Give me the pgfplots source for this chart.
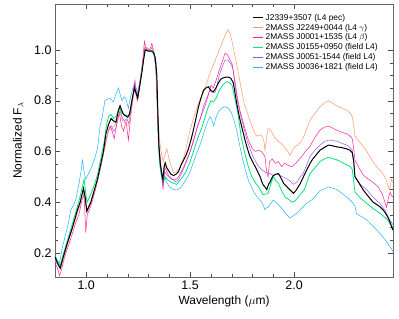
\documentclass[border=0pt]{standalone}
\usepackage{pgfplots}
\pgfplotsset{compat=1.18}
\usepackage{fontspec}
\setmainfont{Liberation Sans}
\definecolor{cblack}{RGB}{0,0,0}
\definecolor{csalmon}{RGB}{255,150,110}
\definecolor{cpink}{RGB}{255,30,150}
\definecolor{cgreen}{RGB}{0,230,120}
\definecolor{cpurple}{RGB}{160,80,255}
\definecolor{cblue}{RGB}{30,180,255}
\begin{document}
\begin{tikzpicture}
\begin{axis}[
  scale only axis, width=338bp, height=273bp,
  xmin=0.85, xmax=2.476, ymin=0.105, ymax=1.181,
  xtick={1.0,1.5,2.0}, minor x tick num=4,
  ytick={0.2,0.4,0.6,0.8,1.0}, minor y tick num=3,
  major tick length=5bp, minor tick length=2.8bp,
  tick style={black!70}, axis line style={black!60},
  ticklabel style={font=\fontsize{12.5}{14}\selectfont},
  /pgf/number format/assume math mode=true,
  xticklabel style={/pgf/number format/.cd, fixed, fixed zerofill, precision=1},
  yticklabel style={/pgf/number format/.cd, fixed, fixed zerofill, precision=1},
  xlabel={Wavelength ($\mu$m)}, ylabel={Normalized F$_\lambda$},
  label style={font=\fontsize{12}{14}\selectfont},
  ylabel style={yshift=4bp},
  legend style={at={(0.58,0.975)}, anchor=north west, draw=white, fill=white,
    font=\fontsize{8.4}{10}\selectfont, row sep=-1.6pt, inner sep=1pt},
  legend cell align=left,
  legend image post style={xscale=0.6},
]
\addlegendimage{color=cblack, line width=1pt, no marks}\addlegendentry{J2339+3507 (L4 pec)}
\addlegendimage{color=csalmon, line width=1.1pt, no marks}\addlegendentry{2MASS J2249+0044 (L4 $\gamma$)}
\addlegendimage{color=cpink, line width=1.1pt, no marks}\addlegendentry{2MASS J0001+1535 (L4 $\beta$)}
\addlegendimage{color=cgreen, line width=1.3pt, no marks}\addlegendentry{2MASS J0155+0950 (field L4)}
\addlegendimage{color=cpurple, line width=1.1pt, no marks}\addlegendentry{2MASS J0051-1544 (field L4)}
\addlegendimage{color=cblue, line width=1.1pt, no marks}\addlegendentry{2MASS J0036+1821 (field L4)}

% J0036 (blue)
\addplot[cblue, line width=0.5pt, forget plot] table {
0.850 0.190
0.862 0.170
0.872 0.160
0.885 0.220
0.900 0.270
0.910 0.300
0.926 0.370
0.940 0.390
0.950 0.410
0.966 0.475
0.975 0.520
0.982 0.565
0.990 0.520
0.998 0.490
1.010 0.510
1.022 0.530
1.040 0.570
1.054 0.610
1.067 0.700
1.078 0.740
1.090 0.800
1.100 0.805
1.115 0.810
1.130 0.795
1.145 0.830
1.155 0.850
1.165 0.820
1.172 0.800
1.182 0.815
1.190 0.810
1.203 0.770
1.215 0.820
1.232 0.870
1.242 0.845
1.250 0.830
1.262 0.900
1.272 0.960
1.282 0.995
1.292 1.010
1.305 1.000
1.318 0.990
1.326 0.980
1.334 0.940
1.341 0.800
1.348 0.620
1.356 0.530
1.363 0.500
1.370 0.470
1.378 0.500
1.386 0.480
1.400 0.460
1.420 0.450
1.436 0.448
1.452 0.455
1.470 0.475
1.485 0.495
1.500 0.520
1.515 0.555
1.530 0.590
1.550 0.630
1.565 0.670
1.580 0.710
1.596 0.737
1.606 0.720
1.614 0.700
1.622 0.730
1.636 0.755
1.650 0.770
1.668 0.776
1.685 0.770
1.700 0.750
1.712 0.720
1.724 0.685
1.737 0.630
1.750 0.580
1.765 0.530
1.780 0.487
1.795 0.460
1.810 0.435
1.828 0.415
1.845 0.400
1.853 0.385
1.860 0.370
1.868 0.378
1.875 0.380
1.888 0.395
1.900 0.408
1.912 0.400
1.925 0.390
1.945 0.372
1.965 0.350
1.980 0.338
1.995 0.345
2.010 0.355
2.030 0.370
2.060 0.395
2.090 0.412
2.125 0.445
2.165 0.460
2.205 0.450
2.230 0.435
2.253 0.420
2.280 0.400
2.293 0.385
2.300 0.355
2.320 0.345
2.350 0.330
2.380 0.305
2.413 0.277
2.445 0.245
2.477 0.205
};

% J0155 (green)
\addplot[cgreen, line width=0.8pt, forget plot] table {
0.850 0.185
0.862 0.165
0.875 0.150
0.890 0.195
0.910 0.250
0.930 0.305
0.950 0.360
0.970 0.420
0.990 0.490
1.000 0.420
1.005 0.400
1.022 0.430
1.040 0.470
1.055 0.510
1.070 0.570
1.085 0.630
1.097 0.700
1.108 0.740
1.120 0.745
1.132 0.730
1.145 0.740
1.160 0.775
1.172 0.750
1.185 0.745
1.200 0.740
1.210 0.750
1.222 0.810
1.232 0.850
1.245 0.815
1.258 0.870
1.270 0.930
1.283 1.000
1.300 0.995
1.316 0.998
1.326 0.985
1.336 0.930
1.342 0.780
1.348 0.630
1.356 0.540
1.363 0.500
1.370 0.470
1.378 0.500
1.390 0.490
1.405 0.480
1.420 0.475
1.435 0.470
1.450 0.485
1.465 0.500
1.480 0.520
1.500 0.560
1.520 0.610
1.540 0.660
1.555 0.690
1.570 0.730
1.585 0.770
1.600 0.800
1.612 0.795
1.625 0.810
1.640 0.840
1.655 0.860
1.676 0.875
1.690 0.870
1.702 0.860
1.715 0.810
1.730 0.750
1.745 0.660
1.764 0.590
1.780 0.540
1.797 0.500
1.815 0.475
1.830 0.460
1.850 0.430
1.865 0.432
1.875 0.435
1.888 0.470
1.900 0.500
1.912 0.485
1.925 0.474
1.940 0.445
1.957 0.420
1.975 0.410
1.990 0.400
2.005 0.405
2.020 0.420
2.035 0.435
2.050 0.450
2.077 0.513
2.100 0.535
2.125 0.560
2.145 0.570
2.165 0.577
2.185 0.572
2.205 0.567
2.230 0.557
2.253 0.547
2.270 0.540
2.280 0.530
2.287 0.480
2.293 0.440
2.320 0.415
2.350 0.395
2.380 0.375
2.413 0.356
2.430 0.345
2.450 0.330
2.465 0.310
2.477 0.300
};

% J0051 (purple)
\addplot[cpurple, line width=0.5pt, forget plot] table {
0.850 0.175
0.862 0.155
0.875 0.140
0.890 0.180
0.910 0.235
0.930 0.290
0.955 0.355
0.970 0.390
0.985 0.445
0.995 0.410
1.003 0.360
1.022 0.395
1.040 0.440
1.055 0.485
1.070 0.540
1.085 0.600
1.100 0.660
1.110 0.690
1.122 0.700
1.132 0.680
1.142 0.690
1.155 0.740
1.163 0.760
1.175 0.730
1.185 0.720
1.195 0.730
1.205 0.710
1.220 0.790
1.232 0.860
1.245 0.820
1.258 0.870
1.270 0.930
1.282 1.010
1.295 1.000
1.305 0.995
1.316 1.010
1.326 0.990
1.336 0.950
1.342 0.800
1.348 0.640
1.356 0.560
1.363 0.510
1.370 0.480
1.378 0.520
1.390 0.505
1.400 0.500
1.415 0.490
1.430 0.480
1.445 0.490
1.460 0.515
1.475 0.545
1.490 0.575
1.505 0.610
1.520 0.650
1.535 0.700
1.550 0.730
1.565 0.780
1.580 0.810
1.595 0.840
1.610 0.830
1.622 0.835
1.640 0.900
1.655 0.935
1.668 0.960
1.682 0.960
1.695 0.945
1.705 0.930
1.718 0.850
1.732 0.780
1.750 0.720
1.775 0.640
1.797 0.590
1.815 0.560
1.830 0.540
1.850 0.525
1.865 0.515
1.880 0.515
1.900 0.505
1.920 0.510
1.945 0.500
1.970 0.490
1.985 0.480
1.997 0.470
2.015 0.480
2.030 0.500
2.045 0.515
2.077 0.580
2.100 0.605
2.125 0.625
2.145 0.638
2.165 0.645
2.185 0.643
2.205 0.640
2.230 0.632
2.253 0.625
2.270 0.615
2.280 0.605
2.287 0.560
2.293 0.500
2.320 0.470
2.350 0.448
2.380 0.420
2.413 0.395
2.440 0.365
2.460 0.330
2.477 0.310
};

% J0001 (pink)
\addplot[cpink, line width=0.5pt, forget plot] table {
0.850 0.160
0.862 0.140
0.872 0.110
0.880 0.130
0.895 0.180
0.915 0.230
0.935 0.280
0.950 0.320
0.965 0.350
0.980 0.410
0.990 0.430
0.998 0.280
1.005 0.350
1.020 0.380
1.035 0.420
1.050 0.470
1.065 0.520
1.080 0.580
1.095 0.640
1.107 0.680
1.115 0.700
1.125 0.680
1.135 0.650
1.145 0.700
1.160 0.750
1.170 0.700
1.180 0.680
1.192 0.720
1.203 0.645
1.212 0.720
1.225 0.820
1.235 0.880
1.245 0.800
1.255 0.840
1.268 0.920
1.280 1.033
1.290 1.000
1.300 1.000
1.308 1.005
1.316 1.026
1.326 0.990
1.336 0.930
1.342 0.780
1.348 0.640
1.356 0.580
1.362 0.520
1.370 0.450
1.378 0.540
1.388 0.520
1.400 0.500
1.412 0.490
1.425 0.488
1.440 0.495
1.455 0.515
1.470 0.540
1.485 0.570
1.500 0.600
1.520 0.655
1.540 0.710
1.555 0.745
1.570 0.775
1.585 0.815
1.600 0.860
1.612 0.850
1.625 0.880
1.640 0.920
1.655 0.955
1.668 0.987
1.680 0.980
1.692 0.960
1.702 0.945
1.715 0.880
1.728 0.810
1.740 0.760
1.760 0.700
1.780 0.645
1.800 0.610
1.815 0.600
1.830 0.605
1.845 0.598
1.860 0.580
1.868 0.520
1.875 0.500
1.882 0.560
1.895 0.570
1.910 0.553
1.925 0.560
1.940 0.540
1.955 0.553
1.970 0.545
1.990 0.540
2.010 0.555
2.037 0.580
2.055 0.600
2.077 0.620
2.100 0.655
2.125 0.684
2.145 0.695
2.165 0.700
2.185 0.692
2.205 0.684
2.230 0.675
2.253 0.670
2.270 0.660
2.280 0.650
2.287 0.610
2.293 0.566
2.313 0.535
2.333 0.507
2.350 0.495
2.365 0.487
2.385 0.475
2.405 0.460
2.425 0.430
2.445 0.380
2.455 0.420
2.462 0.440
2.470 0.425
2.477 0.420
};

% J2249 (salmon)
\addplot[csalmon, line width=0.5pt, forget plot] table {
0.850 0.170
0.865 0.150
0.878 0.135
0.895 0.190
0.915 0.250
0.935 0.300
0.955 0.350
0.970 0.390
0.985 0.440
0.995 0.400
1.003 0.360
1.020 0.390
1.040 0.440
1.060 0.500
1.080 0.580
1.095 0.640
1.107 0.680
1.120 0.690
1.135 0.700
1.150 0.720
1.163 0.750
1.175 0.720
1.190 0.710
1.205 0.700
1.218 0.760
1.232 0.840
1.248 0.800
1.265 0.900
1.280 0.990
1.290 1.010
1.305 0.995
1.318 1.010
1.328 0.985
1.338 0.900
1.345 0.760
1.352 0.650
1.360 0.600
1.370 0.560
1.380 0.590
1.388 0.610
1.396 0.580
1.408 0.545
1.420 0.515
1.435 0.520
1.450 0.535
1.465 0.565
1.480 0.610
1.500 0.685
1.520 0.740
1.540 0.790
1.564 0.830
1.580 0.870
1.596 0.910
1.612 0.940
1.628 0.975
1.645 1.010
1.660 1.040
1.672 1.065
1.684 1.080
1.692 1.065
1.700 1.040
1.715 0.980
1.730 0.920
1.745 0.850
1.760 0.790
1.780 0.740
1.797 0.700
1.810 0.675
1.820 0.660
1.835 0.665
1.848 0.660
1.855 0.640
1.860 0.605
1.867 0.650
1.875 0.690
1.885 0.685
1.898 0.670
1.910 0.650
1.925 0.640
1.940 0.630
1.955 0.615
1.970 0.600
1.980 0.585
1.990 0.600
2.005 0.620
2.020 0.625
2.035 0.640
2.050 0.665
2.077 0.724
2.100 0.750
2.125 0.776
2.145 0.790
2.165 0.800
2.185 0.790
2.205 0.780
2.230 0.770
2.253 0.763
2.270 0.750
2.280 0.737
2.287 0.700
2.293 0.660
2.313 0.640
2.333 0.620
2.350 0.600
2.365 0.580
2.380 0.560
2.397 0.540
2.420 0.520
2.437 0.500
2.450 0.470
2.460 0.448
2.468 0.490
2.477 0.475
};

% J2339+3507 (black)
\addplot[cblack, line width=1pt, forget plot] table {
0.850 0.185
0.862 0.160
0.875 0.140
0.890 0.185
0.910 0.240
0.934 0.300
0.958 0.370
0.971 0.400
0.987 0.455
0.995 0.420
1.003 0.365
1.022 0.400
1.040 0.450
1.054 0.490
1.070 0.550
1.083 0.600
1.095 0.670
1.107 0.705
1.120 0.730
1.132 0.720
1.143 0.715
1.155 0.760
1.163 0.780
1.172 0.760
1.180 0.745
1.190 0.740
1.200 0.735
1.208 0.745
1.220 0.800
1.232 0.850
1.240 0.830
1.248 0.810
1.258 0.860
1.268 0.910
1.276 0.960
1.284 1.000
1.300 0.995
1.316 0.995
1.324 0.990
1.332 0.970
1.340 0.900
1.345 0.750
1.350 0.620
1.356 0.555
1.362 0.520
1.369 0.490
1.375 0.540
1.380 0.555
1.388 0.535
1.396 0.525
1.408 0.510
1.420 0.505
1.432 0.510
1.444 0.520
1.456 0.545
1.468 0.565
1.480 0.585
1.492 0.610
1.504 0.645
1.516 0.685
1.528 0.730
1.540 0.775
1.552 0.810
1.564 0.840
1.576 0.850
1.588 0.855
1.600 0.840
1.612 0.835
1.624 0.850
1.636 0.870
1.648 0.885
1.660 0.890
1.672 0.893
1.684 0.893
1.696 0.888
1.708 0.870
1.716 0.830
1.724 0.790
1.732 0.755
1.740 0.725
1.752 0.685
1.764 0.645
1.776 0.610
1.788 0.580
1.800 0.560
1.813 0.540
1.825 0.520
1.837 0.500
1.845 0.480
1.852 0.467
1.860 0.460
1.869 0.450
1.877 0.470
1.885 0.480
1.893 0.495
1.900 0.505
1.912 0.510
1.925 0.513
1.937 0.495
1.950 0.474
1.960 0.465
1.972 0.455
1.985 0.445
1.997 0.435
2.008 0.445
2.020 0.460
2.030 0.474
2.045 0.500
2.060 0.525
2.077 0.553
2.090 0.570
2.105 0.585
2.125 0.605
2.145 0.615
2.165 0.625
2.185 0.622
2.205 0.618
2.230 0.615
2.253 0.610
2.268 0.605
2.280 0.595
2.287 0.560
2.293 0.500
2.305 0.485
2.320 0.465
2.333 0.448
2.350 0.430
2.365 0.415
2.380 0.400
2.395 0.392
2.413 0.382
2.430 0.368
2.445 0.350
2.460 0.325
2.475 0.290
};
\end{axis}
\path ([shift={(-55bp,-42bp)}]current axis.south west) rectangle ([shift={(6bp,4bp)}]current axis.north east);
\end{tikzpicture}
\end{document}
